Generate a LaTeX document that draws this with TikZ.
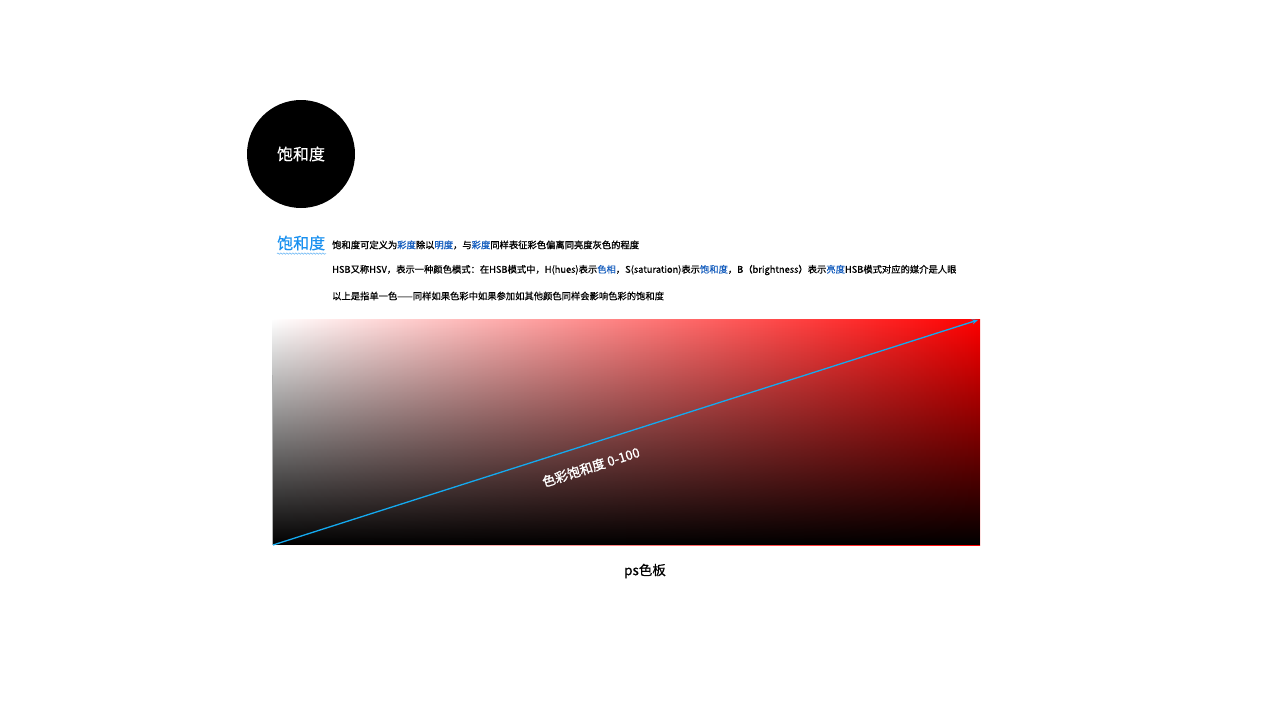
\documentclass[tikz,border=0pt]{standalone}
\usepackage{fontspec}
\setmainfont{Noto Sans CJK SC}
\newfontfamily\medfont[FakeBold=1.2]{Noto Sans CJK SC}
\newfontfamily\semifont[FakeBold=0.4]{Noto Sans CJK SC}
\usetikzlibrary{fadings,decorations.pathmorphing,arrows.meta}
\tikzfading[name=fadeup, top color=transparent!100, bottom color=transparent!0]
\definecolor{titleblue}{RGB}{24,144,240}
\definecolor{wordblue}{RGB}{22,94,190}
\definecolor{arrowblue}{RGB}{20,170,240}
\tikzset{
  bodytext/.style={anchor=west, inner sep=0pt, font=\semifont\fontsize{9.3}{11}\selectfont, text=black}
}
\newcommand{\bw}[1]{\textcolor{wordblue}{#1}}
\begin{document}
\begin{tikzpicture}[x=1pt,y=-1pt]
\useasboundingbox (0,0) rectangle (1280,720);
\fill[white] (0,0) rectangle (1280,720);
% circle
\node[circle, fill=black, minimum size=108pt, inner sep=0pt, text=white, font=\semifont\fontsize{16}{18}\selectfont] (circ) at (301,154) {饱和度};
% title
\node[anchor=west, inner sep=0pt, text=titleblue, font=\semifont\fontsize{16}{18}\selectfont] (title) at (277,243) {饱和度};
\draw[titleblue!60, line width=0.6pt, decorate, decoration={snake, amplitude=0.7pt, segment length=3pt}] (title.south west) ++(0,3) coordinate (wa) -- ++(49,0) coordinate (wb);
% text lines
\node[bodytext, font=\medfont\fontsize{9.3}{11}\selectfont] (l1) at (332,245) {饱和度可定义为\bw{彩度}除以\bw{明度}，与\bw{彩度}同样表征彩色偏离同亮度灰色的程度};
\node[bodytext] (l2) at (332,270) {HSB又称HSV，表示一种颜色模式：在HSB模式中，H(hues)表示\bw{色相}，S(saturation)表示\bw{饱和度}，B（brightness）表示\bw{亮度}HSB模式对应的媒介是人眼};
\node[bodytext] (l3) at (332,296) {以上是指单一色——同样如果色彩中如果参加如其他颜色同样会影响色彩的饱和度};
% gradient panel
\shade[left color=white, right color=red] (272,319) rectangle (980,545);
\fill[black, path fading=fadeup] (272,319) rectangle (980,545);
\draw[gray!60, line width=0.6pt] (272,375) -- (272,545);
\coordinate (bl) at (273,545);
\coordinate (tr) at (978,320);
\draw[arrowblue, line width=1.3pt, -{Stealth[length=6pt,width=5pt]}] (bl) -- (tr);
\node[rotate=17.7, text=white, font=\medfont\fontsize{13}{15}\selectfont, inner sep=0pt] (lab) at (591,467) {色彩饱和度 0-100};
% caption
\node[font=\semifont\fontsize{13.5}{15}\selectfont, inner sep=0pt] (cap) at (645,571) {ps色板};
\end{tikzpicture}
\end{document}
